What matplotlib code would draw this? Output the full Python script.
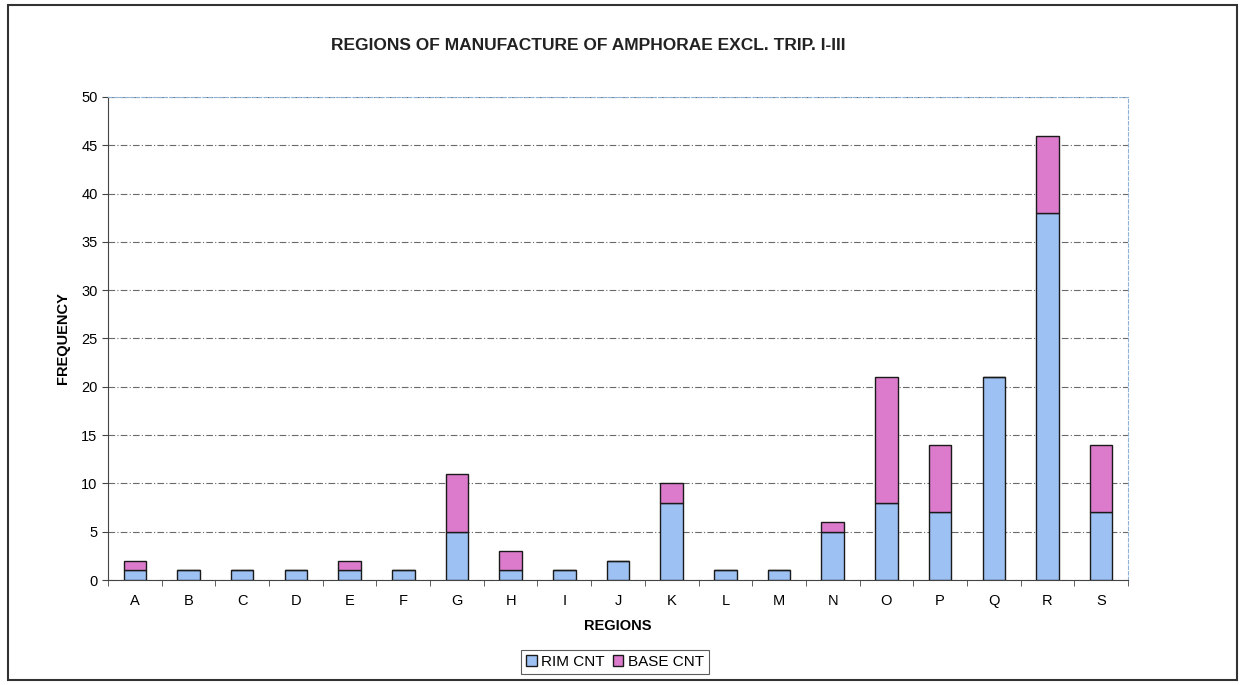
import matplotlib
matplotlib.use("Agg")
import matplotlib.pyplot as plt
from matplotlib.patches import Rectangle
import numpy as np

regions = ["A", "B", "C", "D", "E", "F", "G", "H", "I", "J", "K", "L", "M", "N", "O", "P", "Q", "R", "S"]
rim_cnt = [1, 1, 1, 1, 1, 1, 5, 1, 1, 2, 8, 1, 1, 5, 8, 7, 21, 38, 7]
base_cnt = [1, 0, 0, 0, 1, 0, 6, 2, 0, 0, 2, 0, 0, 1, 13, 7, 0, 8, 7]

plt.rcParams["font.family"] = ["Liberation Sans", "DejaVu Sans"]

fig = plt.figure(figsize=(12.43, 6.85), dpi=100)
ax = fig.add_axes([108 / 1243, 1 - 580 / 685, 1020 / 1243, 483 / 685])

x = np.arange(len(regions))
w = 0.42
blue = "#9DC1F3"
pink = "#DC7ACB"
ax.bar(x, rim_cnt, w, color=blue, edgecolor="#1a1a1a", linewidth=1.0, label="RIM CNT", zorder=3)
ax.bar(x, base_cnt, w, bottom=rim_cnt, color=pink, edgecolor="#1a1a1a", linewidth=1.0,
       label="BASE CNT", zorder=3)

ax.set_xlim(-0.5, len(regions) - 0.5)
ax.set_ylim(0, 50)
ax.set_yticks(range(0, 51, 5))
ax.set_xticks(x)
ax.set_xticklabels(regions, fontsize=10.5)
ax.set_xticks(np.arange(-0.5, len(regions), 1.0), minor=True)
ax.tick_params(axis="y", labelsize=10.5, length=4, color="#444444")
ax.tick_params(axis="x", which="major", length=0, pad=10)
ax.tick_params(axis="x", which="minor", length=4, color="#444444")
ax.yaxis.grid(True, color="#6a6a6a", linestyle=(0, (6, 2, 1, 2)), linewidth=0.8, zorder=0)

for side in ("top", "right"):
    ax.spines[side].set_color("#8fb3d6")
    ax.spines[side].set_linestyle((0, (3, 2)))
    ax.spines[side].set_linewidth(0.8)
ax.spines["left"].set_color("#444444")
ax.spines["bottom"].set_color("#444444")

ax.set_ylabel("FREQUENCY", fontsize=10.5, fontweight="bold", labelpad=8)
ax.set_xlabel("REGIONS", fontsize=10.5, fontweight="bold", labelpad=8)
fig.text(588 / 1243, 1 - 45 / 685, "REGIONS OF MANUFACTURE OF AMPHORAE EXCL. TRIP. I-III",
         ha="center", va="center", fontsize=12.5, fontweight="bold", color="#222222")

leg = fig.legend(loc="center", bbox_to_anchor=(615 / 1243, 1 - 662 / 685), ncol=2,
                 fontsize=11, frameon=True, fancybox=False, edgecolor="#333333",
                 handlelength=0.7, handleheight=0.7, handletextpad=0.3, columnspacing=0.5,
                 borderpad=0.3)
leg.get_frame().set_linewidth(0.8)

fig.patches.append(Rectangle((8 / 1243, 5 / 685), 1229 / 1243, 675 / 685, transform=fig.transFigure,
                             fill=False, edgecolor="#333333", linewidth=1.5))

fig.savefig("out.png", dpi=100, facecolor="white")
